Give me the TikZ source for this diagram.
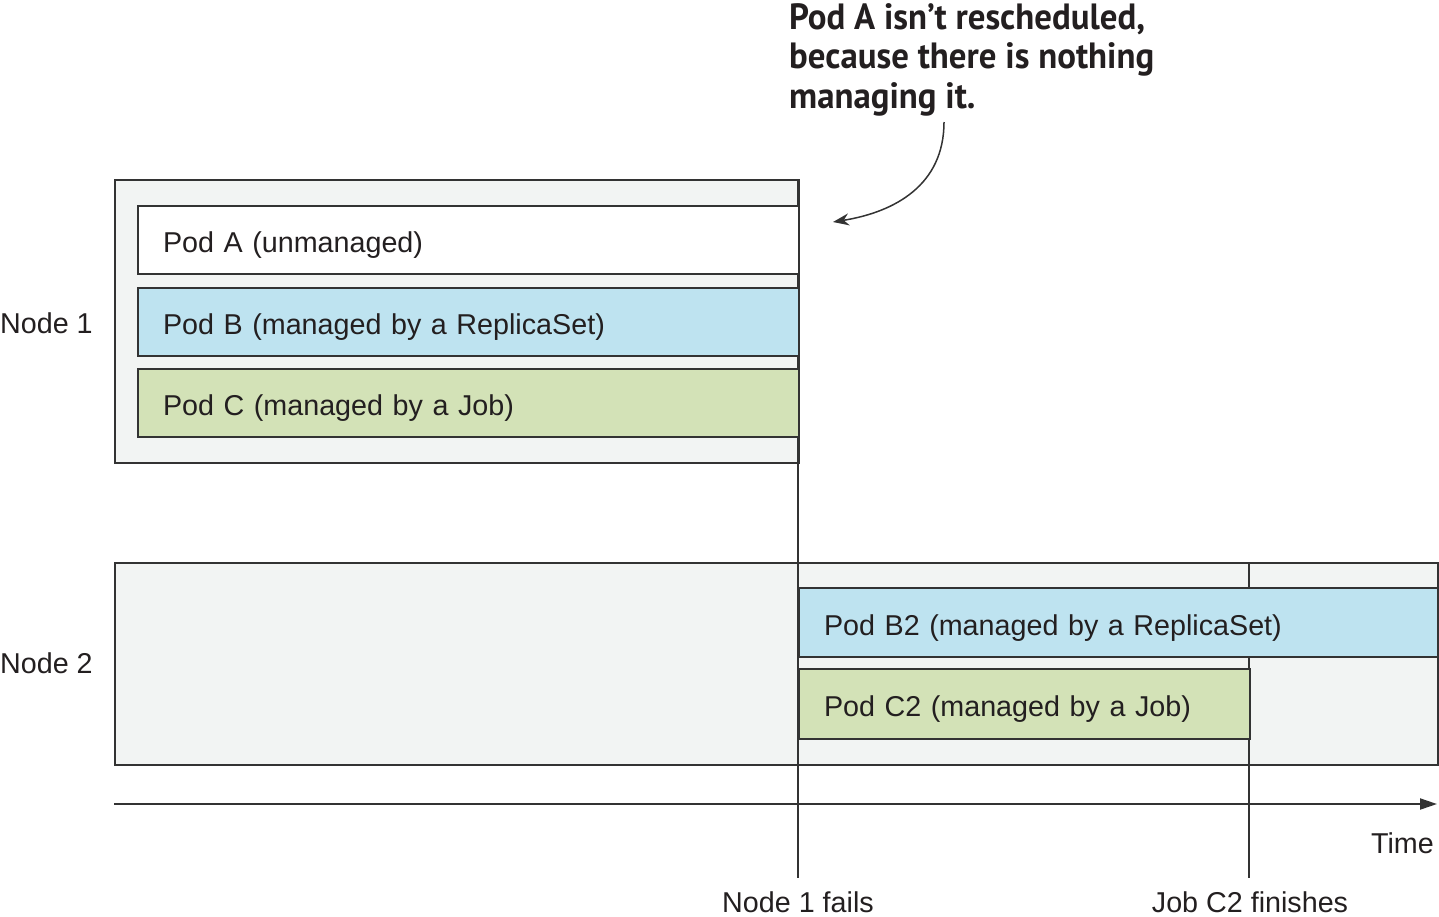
\documentclass[tikz,border=0pt]{standalone}
\usepackage{fontspec}
\setmainfont{Liberation Sans}
\newfontfamily\annotfont[FakeStretch=0.955]{PT Sans Bold}
\usetikzlibrary{arrows.meta}
\definecolor{linec}{HTML}{333333}
\definecolor{txtc}{HTML}{231F20}
\definecolor{nodegray}{HTML}{F2F4F3}
\definecolor{podblue}{HTML}{BEE3F0}
\definecolor{podgreen}{HTML}{D3E2B7}
\tikzset{
  machine/.style={draw=linec, line width=2pt, fill=nodegray, anchor=north west, inner sep=0pt},
  pod/.style={draw=linec, line width=2pt, anchor=north west, inner xsep=25pt, inner ysep=0pt,
    font=\fontsize{28.7}{34}\selectfont, text=txtc, align=left, text height=25pt, text depth=0pt},
  lbl/.style={font=\fontsize{28.7}{34}\selectfont, text=txtc, inner sep=0pt},
  tline/.style={draw=linec, line width=2pt},
}
\begin{document}
\begin{tikzpicture}[x=1pt,y=-1pt]
\useasboundingbox (0,0) rectangle (1439,916);
% machines
\node[machine, minimum width=684pt, minimum height=283pt] (n1) at (114,179) {};
\node[machine, minimum width=1323pt, minimum height=202pt] (n2) at (114,562) {};
% time marks
\coordinate (f1) at (798,179);
\coordinate (f2) at (798,878);
\coordinate (j1) at (1249,562);
\coordinate (j2) at (1249,878);
\draw[tline] (f1) -- (f2);
\draw[tline] (j1) -- (j2);
% pods
\node[pod, fill=white, minimum width=661pt, minimum height=68pt, text width=611pt] (pa) at (137,205) {Pod A (unmanaged)};
\node[pod, fill=podblue, minimum width=661pt, minimum height=68pt, text width=611pt] (pb) at (137,287) {Pod B (managed by a ReplicaSet)};
\node[pod, fill=podgreen, minimum width=661pt, minimum height=68pt, text width=611pt] (pc) at (137,368) {Pod C (managed by a Job)};
\node[pod, fill=podblue, minimum width=639pt, minimum height=69pt, text width=589pt] (pb2) at (798,587) {Pod B2 (managed by a ReplicaSet)};
\node[pod, fill=podgreen, minimum width=451pt, minimum height=70pt, text width=401pt] (pc2) at (798,668) {Pod C2 (managed by a Job)};
% labels
\node[lbl, anchor=west] (l1) at (0,323) {Node 1};
\node[lbl, anchor=west] (l2) at (0,663) {Node 2};
% time axis
\coordinate (t0) at (114,804);
\coordinate (t1) at (1437,804);
\draw[tline, -{Triangle[length=17pt,width=11pt]}] (t0) -- (t1);
\node[lbl, anchor=base east] (time) at (1434,853) {Time};
\node[lbl, anchor=base] (nf) at (798,912) {Node 1 fails};
\node[lbl, anchor=base] (jf) at (1250,912) {Job C2 finishes};
% annotation
\node[anchor=north west, inner sep=0pt, align=left, text=txtc,
  font=\annotfont\fontsize{36.5}{39.5}\selectfont] (ann) at (789,3)
  {Pod A isn’t rescheduled,\\because there is nothing\\managing it.};
\coordinate (as) at (944,122);
\coordinate (ae) at (833,222);
\draw[linec, line width=1.5pt, -{Stealth[length=16pt,width=12pt]}] (as) .. controls (944,185) and (895,212) .. (ae);
\end{tikzpicture}
\end{document}
